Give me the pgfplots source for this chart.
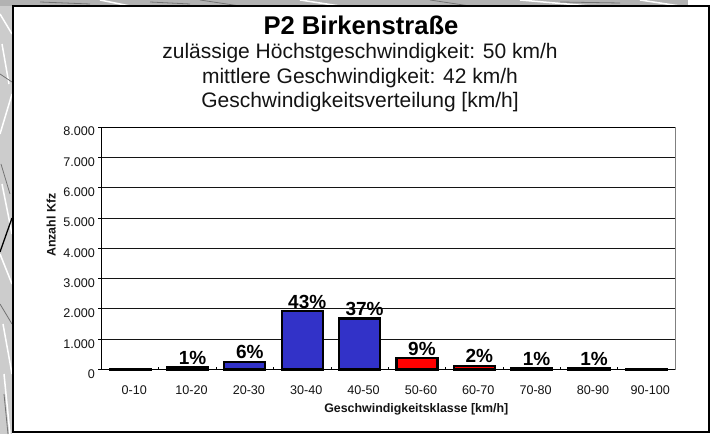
\documentclass[border=0pt]{standalone}
\usepackage{pgfplots}
\pgfplotsset{compat=1.18}
\usepackage{fontspec}
\setmainfont{Liberation Sans}
\definecolor{barblue}{RGB}{50,50,200}
\definecolor{gridc}{RGB}{20,20,20}
\definecolor{txt}{RGB}{20,20,20}
\newcommand{\fs}[1]{\fontsize{#1}{#1}\selectfont}
\begin{document}
\begin{tikzpicture}[x=1pt,y=1pt]
\path[use as bounding box,fill=white] (0,0) rectangle (715,434);
% map background hints (left strip and top strip only)
\fill[black!20] (0,0) rectangle (12,434);
\fill[black!30] (0,428) rectangle (688,434);
\begin{scope}
\clip (0,0) rectangle (12,434) (0,428) rectangle (688,434);
\foreach \a/\b/\c/\d in {0/420/12/400,0/300/12/340,2/250/12/200,0/180/12/150,3/110/12/60,4/60/10/0,2/390/9/350,100/434/130/428,300/434/340/428,520/434/590/428,640/434/680/428}
  \draw[white,line width=1.5pt] (\a,\b)--(\c,\d);
\foreach \a/\b/\c/\d in {0/360/12/352,1/270/10/240,0/130/12/110,4/40/8/0,200/434/240/428,430/434/470/428,40/432/90/430,150/432/190/430,560/432/620/431}
  \draw[black!55,line width=.8pt] (\a,\b)--(\c,\d);
\draw[black,line width=1.3pt] (0,182)--(12,216);
\end{scope}
\draw[black,line width=2pt,fill=white] (12.5,2) rectangle (708.5,428);
\begin{axis}[
  at={(101.5pt,64.5pt)},anchor=south west,
  width=573.5pt,height=242.5pt,scale only axis,
  xmin=-0.5,xmax=9.5,ymin=0,ymax=8000,
  axis line style={black,line width=.9pt},
  ytick={0,1000,...,8000},
  yticklabels={0,1.000,2.000,3.000,4.000,5.000,6.000,7.000,8.000},
  ymajorgrids,
  grid style={gridc,line width=.8pt},
  xtick={0,...,9},
  xticklabels={0-10,10-20,20-30,30-40,40-50,50-60,60-70,70-80,80-90,90-100},
  minor xtick={-0.5,0.5,...,9.5},
  major x tick style={draw=none},
  minor x tick style={black,line width=.8pt,yshift=3pt},
  minor tick length=3pt,
  xtick pos=bottom,
  ytick pos=left,
  tick align=outside,
  major tick length=3pt,
  tick style={black,line width=.8pt},
  /pgf/number format/assume math mode=true,
  ticklabel style={font=\fs{12.6},text=txt},
  xticklabel style={yshift=-10pt,xshift=4pt},
  yticklabel style={yshift=-4.5pt},
  xlabel={Geschwindigkeitsklasse [km/h]},
  ylabel={Anzahl Kfz},
  label style={font=\bfseries\fs{12.4},text=txt},
  xlabel style={at={(axis description cs:0.5,0)},anchor=base,xshift=28pt,yshift=-43pt},
  ylabel style={at={(axis description cs:0,0.5)},anchor=base,xshift=23pt,yshift=46pt},
  ybar,
  bar width=41pt,
  bar shift=0pt,
  clip=false,
  nodes near coords,
  point meta=explicit symbolic,
  nodes near coords style={font=\bfseries\fs{19},text=black,inner sep=0pt,anchor=south,yshift=1.5pt,xshift=5pt},
]
\draw[black!50,line width=.9pt] (rel axis cs:1,0)--(rel axis cs:1,1);
\addplot[draw=black,line width=2.2pt,fill=barblue] table[meta=l,x=x,y=y] {
x y l
0 15 {}
1 70 1\%
2 260 6\%
3 1920 43\%
4 1680 37\%
};
\addplot[draw=black,line width=2.2pt,fill=red] table[meta=l,x=x,y=y] {
x y l
5 385 9\%
6 125 2\%
7 40 1\%
8 40 1\%
9 20 {}
};
\end{axis}
\node[font=\bfseries\fs{25.6},text=black,anchor=base] at (361,399) {P2 Birkenstraße};
\node[font=\fs{21},text=txt,anchor=base] at (360,375) {zulässige Höchstgeschwindigkeit: 50 km/h};
\node[font=\fs{21},text=txt,anchor=base] at (360,350) {mittlere Geschwindigkeit: 42 km/h};
\node[font=\fs{21},text=txt,anchor=base] at (360,326) {Geschwindigkeitsverteilung [km/h]};
\end{tikzpicture}
\end{document}
